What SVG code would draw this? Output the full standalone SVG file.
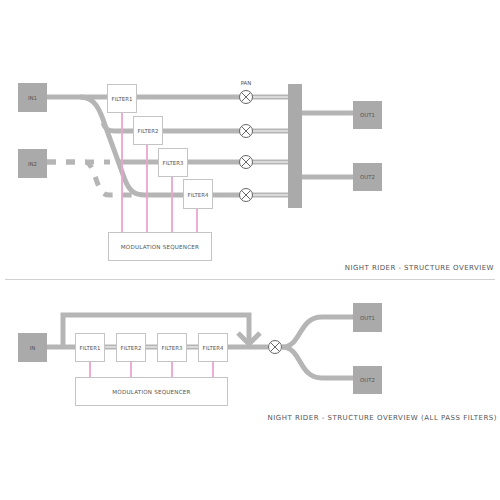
<svg xmlns="http://www.w3.org/2000/svg" width="500" height="500" viewBox="0 0 500 500">
<style>
.bg{fill:#fff}
.io{fill:#aaaaaa}
.box{fill:#fff;stroke:#c4c4c4;stroke-width:1}
.lbl{font-family:"DejaVu Sans",sans-serif;font-size:5.4px;fill:#555;text-anchor:middle}
.seq{font-family:"DejaVu Sans",sans-serif;font-size:5.6px;fill:#555;text-anchor:middle;letter-spacing:0.2px}
.ttl{font-family:"DejaVu Sans",sans-serif;font-size:7px;fill:#555;text-anchor:end}
.w{fill:none;stroke:#b5b5b5;stroke-width:5}
.dash{fill:none;stroke:#b5b5b5;stroke-width:5;stroke-dasharray:9,10}
.inner{fill:none;stroke:#fff;stroke-width:1.2}
.mod{stroke:#e8a6cc;stroke-width:2;opacity:0.9}
.pan{fill:#fff;stroke:#666;stroke-width:1}
.x{stroke:#666;stroke-width:1}
</style>
<rect class="bg" x="0" y="0" width="500" height="500"/>

<g id="connectors">
  <path class="w" d="M47,97 L240,97"/>
  <path class="w" d="M80,97 C95,97 100,110 105,125 L125,180 C130,192 135,195 145,195 L240,195"/>
  <path class="w" d="M103,123 C105,129 108,131 114,131 L240,131"/>
  <path class="dash" d="M47,162 L85,162 C92,162 95,178 99,187 C102,193 104,195 110,195 L140,195"/>
  <path class="dash" d="M47,162 L110,162"/>
  <path class="w" d="M117,162 L240,162"/>
  <path class="w" d="M252,97 L288,97 M252,131 L288,131 M252,162 L288,162 M252,195 L288,195"/>
  <path class="inner" d="M253,97 L288,97 M253,131 L288,131 M253,162 L288,162 M253,195 L288,195"/>
  <path class="w" d="M302,113 L353,113 M302,177 L353,177"/>
  <path class="mod" d="M122,113 L122,232 M147,145 L147,232 M172,177 L172,232 M197,209 L197,232"/>

  <path class="w" d="M47,347 L268,347"/>
  <path class="inner" d="M104,347 L116,347 M146,347 L158,347 M187,347 L199,347"/>
  <path class="w" d="M63,347 L63,315 L249,315 L249,343"/>
  <path class="w" d="M238,333 L249,344 L260,333"/>
  <path class="w" d="M282,347 C302,347 298,317 322,317 L353,317"/>
  <path class="w" d="M282,347 C302,347 298,378 322,378 L353,378"/>
  <path class="mod" d="M90,362 L90,377 M131,362 L131,377 M172,362 L172,377 M213,362 L213,377"/>
</g>

<g id="bus"><rect class="io" x="288" y="84" width="14" height="124"/></g>

<g id="in1"><rect class="io" x="18" y="83" width="29" height="29"/><text class="lbl" x="32.5" y="99.5">IN1</text></g>
<g id="in2"><rect class="io" x="18" y="149" width="29" height="29"/><text class="lbl" x="32.5" y="165.5">IN2</text></g>
<g id="out1"><rect class="io" x="353" y="101" width="29" height="28"/><text class="lbl" x="367.5" y="116.5">OUT1</text></g>
<g id="out2"><rect class="io" x="353" y="163" width="29" height="28"/><text class="lbl" x="367.5" y="178.5">OUT2</text></g>

<g id="filter1"><rect class="box" x="107.5" y="84.5" width="29" height="28"/><text class="lbl" x="122" y="100.5">FILTER1</text></g>
<g id="filter2"><rect class="box" x="133.5" y="116.5" width="29" height="28"/><text class="lbl" x="148" y="132.5">FILTER2</text></g>
<g id="filter3"><rect class="box" x="158.5" y="148.5" width="29" height="28"/><text class="lbl" x="173" y="164.5">FILTER3</text></g>
<g id="filter4"><rect class="box" x="183.5" y="179.5" width="29" height="29"/><text class="lbl" x="198" y="196.5">FILTER4</text></g>
<g id="sequencer"><rect class="box" x="108.5" y="232.5" width="103" height="28"/><text class="seq" x="160" y="248.5">MODULATION SEQUENCER</text></g>

<g id="pans">
  <text class="lbl" x="246" y="85">PAN</text>
  <g id="pan1"><circle class="pan" cx="246" cy="97" r="6.5"/><path class="x" d="M241.4,92.4 L250.6,101.6 M250.6,92.4 L241.4,101.6"/></g>
  <g id="pan2"><circle class="pan" cx="246" cy="131" r="6.5"/><path class="x" d="M241.4,126.4 L250.6,135.6 M250.6,126.4 L241.4,135.6"/></g>
  <g id="pan3"><circle class="pan" cx="246" cy="162" r="6.5"/><path class="x" d="M241.4,157.4 L250.6,166.6 M250.6,157.4 L241.4,166.6"/></g>
  <g id="pan4"><circle class="pan" cx="246" cy="195" r="6.5"/><path class="x" d="M241.4,190.4 L250.6,199.6 M250.6,190.4 L241.4,199.6"/></g>
</g>

<text class="ttl" x="494" y="270" style="letter-spacing:0.45px">NIGHT RIDER - STRUCTURE OVERVIEW</text>
<line x1="5" y1="279.5" x2="495" y2="279.5" stroke="#d0d0d0" stroke-width="1"/>

<g id="in"><rect class="io" x="18" y="333" width="29" height="29"/><text class="lbl" x="32.5" y="349.5">IN</text></g>
<g id="b-filter1"><rect class="box" x="75.5" y="333.5" width="29" height="28"/><text class="lbl" x="90" y="349.5">FILTER1</text></g>
<g id="b-filter2"><rect class="box" x="116.5" y="333.5" width="29" height="28"/><text class="lbl" x="131" y="349.5">FILTER2</text></g>
<g id="b-filter3"><rect class="box" x="157.5" y="333.5" width="29" height="28"/><text class="lbl" x="172" y="349.5">FILTER3</text></g>
<g id="b-filter4"><rect class="box" x="198.5" y="333.5" width="29" height="28"/><text class="lbl" x="213" y="349.5">FILTER4</text></g>
<g id="b-sequencer"><rect class="box" x="75.5" y="377.5" width="152" height="28"/><text class="seq" x="151.5" y="393.5">MODULATION SEQUENCER</text></g>
<g id="mixer"><circle class="pan" cx="275" cy="347" r="6.5"/><path class="x" d="M270.4,342.4 L279.6,351.6 M279.6,342.4 L270.4,351.6"/></g>
<g id="b-out1"><rect class="io" x="353" y="303" width="29" height="29"/><text class="lbl" x="367.5" y="319.5">OUT1</text></g>
<g id="b-out2"><rect class="io" x="353" y="366" width="29" height="28"/><text class="lbl" x="367.5" y="382">OUT2</text></g>

<text class="ttl" x="497" y="420" style="letter-spacing:0.5px">NIGHT RIDER - STRUCTURE OVERVIEW (ALL PASS FILTERS)</text>
</svg>
